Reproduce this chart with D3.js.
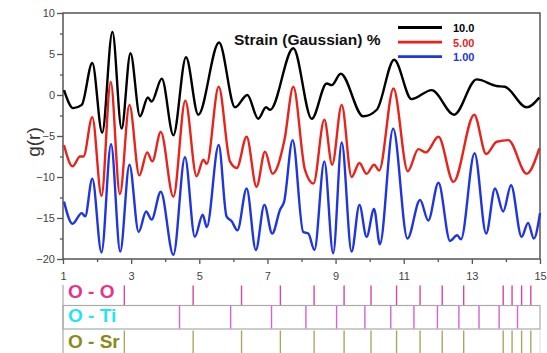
<!DOCTYPE html>
<html>
<head>
<meta charset="utf-8">
<script src="https://cdn.jsdelivr.net/npm/d3@7"></script>
<style>
body{margin:0;background:#fff;}
svg{display:block;font-family:"Liberation Sans",Arial,sans-serif;}
</style>
</head>
<body>
<script>
// g(r) curves, [r, g(r)] (offset already included)
var strain10=[[1.03,0.6],[1.30,-1.6],[1.55,-1.2],[1.86,3.9],[2.15,-4.6],[2.45,7.7],[2.72,-4.1],[2.98,5.1],
    [3.26,-2.6],[3.49,-0.3],[3.60,-0.8],[3.90,2.0],[4.24,-4.9],[4.61,4.6],[4.97,-2.4],[5.58,6.4],[6.05,-1.5],
    [6.41,0.0],[6.73,-2.9],[6.96,-1.5],[7.08,-1.8],[7.76,5.7],[8.30,-2.9],[8.74,1.4],[8.89,1.2],[9.15,2.6],
    [9.81,-2.6],[10.21,-1.8],[10.72,4.3],[11.23,-0.5],[11.82,0.6],[12.48,-2.4],[13.14,1.9],[13.73,1.1],
    [13.97,1.0],[14.61,-1.5],[14.98,-0.3]];
var strain5=[[1.03,-6.1],[1.28,-8.7],[1.50,-7.5],[1.60,-7.5],[1.86,-2.7],[2.13,-12.3],[2.40,1.6],[2.67,-12.1],
    [2.95,-1.2],[3.24,-9.8],[3.47,-7.0],[3.62,-8.1],[3.87,-4.5],[4.24,-12.4],[4.59,-0.7],[4.92,-9.9],
    [5.12,-7.9],[5.22,-8.4],[5.57,1.0],[5.90,-8.1],[6.10,-8.9],[6.39,-5.1],[6.68,-11.2],[6.93,-6.9],
    [7.15,-9.6],[7.50,-5.5],[7.76,1.0],[8.10,-9.1],[8.35,-10.8],[8.67,-3.0],[8.90,-8.5],[9.18,-1.2],
    [9.47,-10.0],[9.70,-8.3],[9.91,-9.6],[10.13,-8.5],[10.28,-9.2],[10.70,0.8],[11.12,-9.3],[11.43,-6.6],
    [11.65,-7.0],[12.02,-5.1],[12.46,-10.6],[13.07,-2.4],[13.42,-7.2],[13.73,-5.7],[14.07,-5.5],[14.61,-9.6],
    [14.98,-6.5]];
var strain1=[[1.03,-13.0],[1.28,-15.7],[1.55,-14.4],[1.65,-14.8],[1.86,-10.2],[2.13,-19.2],[2.41,-6.0],
    [2.68,-19.1],[2.95,-8.5],[3.22,-16.7],[3.44,-14.2],[3.60,-15.2],[3.87,-11.8],[4.24,-19.5],[4.58,-7.6],
    [4.87,-17.3],[5.10,-14.6],[5.22,-16.1],[5.57,-6.1],[5.80,-14.8],[5.95,-15.4],[6.12,-16.5],[6.39,-11.4],
    [6.66,-18.9],[6.91,-13.4],[7.14,-16.9],[7.37,-14.0],[7.49,-13.0],[7.74,-5.5],[8.05,-16.7],[8.20,-16.9],
    [8.38,-18.9],[8.67,-8.1],[8.93,-19.3],[9.18,-5.8],[9.47,-19.1],[9.70,-13.4],[9.91,-17.3],[10.13,-13.9],
    [10.30,-18.2],[10.69,-4.1],[11.11,-17.5],[11.48,-12.8],[11.72,-15.3],[12.02,-10.7],[12.36,-17.8],
    [12.57,-17.1],[12.68,-17.6],[13.08,-7.1],[13.42,-16.9],[13.68,-11.4],[13.92,-14.2],[14.15,-11.0],
    [14.46,-17.3],[14.65,-15.6],[14.82,-17.5],[15.0,-14.4]];

var seriesNames=["10.0","5.00","1.00"];
var seriesColors=["#000000","#e8231c","#1f35e0"];

// pair distances for the stick panels
var pairNames=["O - O","O - Ti","O - Sr"];
var pairColors=["#ea3089","#1fe6f0","#8a8a1c"];
var stickColors=["#d8469c","#d860d8","#aaa860"];
var rOO=[2.80,4.82,6.24,7.38,8.37,9.25,10.04,10.79,11.48,12.13,12.76,13.92,14.18,14.46,14.73];
var rOTi=[4.42,5.92,7.12,8.13,9.03,9.86,10.62,11.30,11.99,12.62,13.21,13.80,14.34];
var rOSr=[2.80,4.82,6.24,7.38,8.37,9.25,10.04,10.79,11.48,12.13,12.76,13.92,14.18,14.46,14.73];

var xMajor=[1,3,5,7,9,11,13,15];
var xMinor=[2,4,6,8,10,12,14];
var yMajor=[-20,-15,-10,-5,0,5,10];
var yMinor=[-17.5,-12.5,-7.5,-2.5,2.5,7.5];

function setupspace() {
    window.W=547;
    window.H=353;
    window.svg=d3.select("body").append("svg")
        .attr("width",W).attr("height",H);
    window.x=d3.scaleLinear().domain([1,15]).range([63,540]);
    window.y=d3.scaleLinear().domain([-20,10]).range([259,13]);
}

function drawAxes() {
    var axisCol="#555";
    var yAx=svg.append("g").attr("transform","translate(63,0)")
        .call(d3.axisLeft(y).tickValues(yMajor).tickSize(6).tickPadding(2));
    var yMin=svg.append("g").attr("transform","translate(63,0)")
        .call(d3.axisLeft(y).tickValues(yMinor).tickSize(3).tickFormat(""));
    var xAx=svg.append("g").attr("transform","translate(0,259)")
        .call(d3.axisBottom(x).tickValues(xMajor).tickSize(5).tickPadding(8));
    var xMin=svg.append("g").attr("transform","translate(0,259)")
        .call(d3.axisBottom(x).tickValues(xMinor).tickSize(3).tickFormat(""));
    [yAx,yMin,xAx,xMin].forEach(function (g) {
        g.select(".domain").remove();
        g.selectAll("line").attr("stroke",axisCol).attr("stroke-width",1.3);
        g.selectAll("text").attr("fill","#444").attr("font-size",11)
            .attr("font-family","'Liberation Sans',Arial,sans-serif");
    });
    svg.append("rect")
        .attr("x",63).attr("y",13).attr("width",477).attr("height",246)
        .attr("fill","none").attr("stroke",axisCol).attr("stroke-width",1.5);

    svg.append("text")
        .attr("transform","translate(40,142) rotate(-90)")
        .attr("text-anchor","middle")
        .attr("font-size",19).attr("fill","#333")
        .text("g(r)");
}

function drawCurves() {
    var line=d3.line()
        .x(function (d) {return x(d[0]);})
        .y(function (d) {return y(d[1]);})
        .curve(d3.curveMonotoneX);
    var all=[strain10,strain5,strain1];
    svg.append("g").selectAll("path")
        .data(all).enter().append("path")
        .attr("d",line)
        .attr("fill","none")
        .attr("stroke",function (d,i) {return seriesColors[i];})
        .attr("stroke-width",2.4)
        .attr("stroke-linejoin","round");

    svg.append("text")
        .attr("x",234).attr("y",45)
        .attr("font-size",15.5).attr("font-weight","bold").attr("fill","#111")
        .text("Strain (Gaussian) %");

    var leg=svg.append("g").selectAll("g")
        .data(seriesNames).enter().append("g")
        .attr("transform",function (d,i) {return "translate(398,"+(27.5+i*14.6)+")";});
    leg.append("line")
        .attr("x1",0).attr("x2",44).attr("y1",0).attr("y2",0)
        .attr("stroke",function (d,i) {return seriesColors[i];})
        .attr("stroke-width",2.8);
    leg.append("text")
        .attr("x",55).attr("y",4.5)
        .attr("font-size",11).attr("font-weight","bold")
        .attr("fill",function (d,i) {return seriesColors[i];})
        .text(function (d) {return d;});
}

function drawSticks() {
    var rows=[{top:285,bot:305.5,r:rOO},{top:305.5,bot:329,r:rOTi},{top:330,bot:356,r:rOSr}];
    var gridCol="#aaa";
    svg.append("line").attr("x1",63).attr("x2",63).attr("y1",285).attr("y2",353)
        .attr("stroke",gridCol).attr("stroke-width",1.2);
    svg.append("rect").attr("x",63).attr("y",305.5).attr("width",477).attr("height",23.5)
        .attr("fill","none").attr("stroke",gridCol).attr("stroke-width",1.2);
    svg.append("line").attr("x1",540).attr("x2",540).attr("y1",330).attr("y2",353)
        .attr("stroke","#ddd").attr("stroke-width",1);

    rows.forEach(function (row,j) {
        svg.append("g").selectAll("line")
            .data(row.r).enter().append("line")
            .attr("x1",function (d) {return x(d);})
            .attr("x2",function (d) {return x(d);})
            .attr("y1",row.top+0.5).attr("y2",row.bot-0.5)
            .attr("stroke",stickColors[j]).attr("stroke-width",1.4);
    });
    var base=[297.5,321.5,348];
    svg.append("g").selectAll("text")
        .data(pairNames).enter().append("text")
        .attr("x",68)
        .attr("y",function (d,i) {return base[i];})
        .attr("font-size",19).attr("font-weight","bold")
        .attr("fill",function (d,i) {return pairColors[i];})
        .text(function (d) {return d;});
}

setupspace();
drawAxes();
drawCurves();
drawSticks();
</script>
</body>
</html>
